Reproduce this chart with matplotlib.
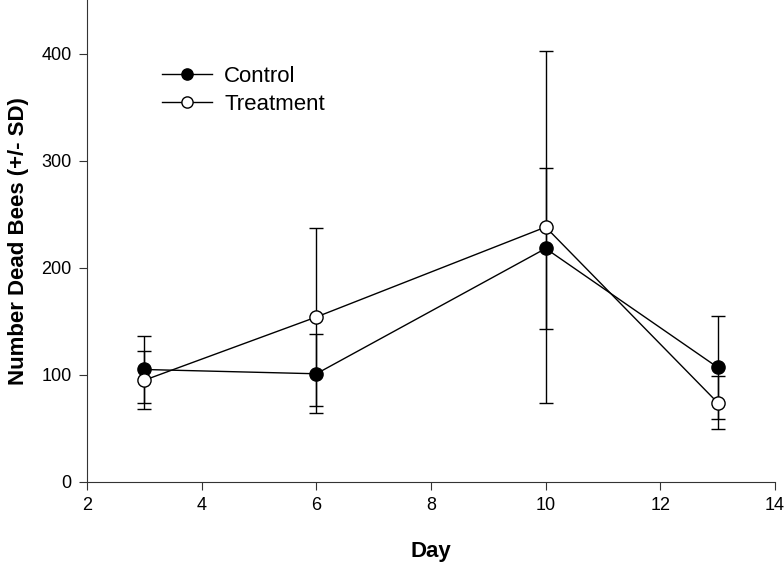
import matplotlib
matplotlib.use("Agg")
import matplotlib.pyplot as plt

plt.rcParams['font.family'] = ['Liberation Sans', 'DejaVu Sans']

days = [3, 6, 10, 13]
control = [105, 101, 218, 107]
control_sd = [31, 37, 75, 48]
treatment = [95, 154, 238, 74]
treatment_sd = [27, 83, 164, 25]

fig = plt.figure(figsize=(7.84, 5.65), dpi=100)
ax = fig.add_axes([0.111, 0.147, 0.8775, 0.853])

ax.errorbar(days, control, yerr=control_sd, color='black', lw=1, capsize=5,
            capthick=1, marker='o', ms=9.5, mfc='black', mec='black', label='Control', zorder=3)
ax.errorbar(days, treatment, yerr=treatment_sd, color='black', lw=1, capsize=5,
            capthick=1, marker='o', ms=9.5, mfc='white', mec='black', label='Treatment', zorder=3)

ax.set_xlim(2, 14)
ax.set_ylim(0, 450)
ax.set_xticks([2, 4, 6, 8, 10, 12, 14])
ax.set_yticks([0, 100, 200, 300, 400])
ax.tick_params(direction='out', length=6, labelsize=13, color='#333333', pad=5)
for s in ['top', 'right']:
    ax.spines[s].set_visible(False)
for s in ['left', 'bottom']:
    ax.spines[s].set_color('#333333')

ax.set_xlabel('Day', fontsize=16, fontweight='bold', labelpad=19)
ax.set_ylabel('Number Dead Bees (+/- SD)', fontsize=16, fontweight='bold', labelpad=9)

handles, labels = ax.get_legend_handles_labels()
handles = [h[0] for h in handles]
ax.legend(handles, labels, loc='upper left', bbox_to_anchor=(0.08, 0.904), frameon=False,
          fontsize=16, handlelength=2.25, labelspacing=0.3, handletextpad=0.55, markerscale=0.85,
          borderpad=0.4)

fig.savefig('out.png', dpi=100)
